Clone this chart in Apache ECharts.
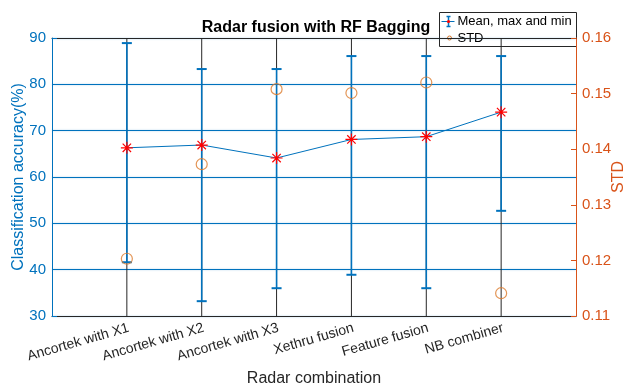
<!DOCTYPE html>
<html>
<head>
<meta charset="utf-8">
<script src="https://cdn.jsdelivr.net/npm/echarts@6/dist/echarts.min.js"></script>
<style>
  html, body { margin: 0; padding: 0; background: #fff; }
  #chart { width: 625px; height: 385px; }
</style>
</head>
<body>
<div id="chart"></div>
<script>
    'use strict';
    // data
    var categories = ['Ancortek with X1', 'Ancortek with X2', 'Ancortek with X3', 'Xethru fusion', 'Feature fusion', 'NB combiner'];
    var meanAcc = [66.3, 66.9, 64.1, 68.1, 68.7, 74.0];
    var maxAcc = [88.9, 83.3, 83.3, 86.1, 86.1, 86.1];
    var minAcc = [41.6, 33.2, 36.0, 38.9, 36.0, 52.7];
    var stdVals = [0.1203, 0.1373, 0.1508, 0.1501, 0.1520, 0.1141];
    var accTicks = [30, 40, 50, 60, 70, 80, 90];
    var stdTicks = [0.11, 0.12, 0.13, 0.14, 0.15, 0.16];

    var BLUE = '#0072BD';
    var ORANGE = '#D95319';
    var CIRCLE = '#DC7A2C';
    var FONT = 'Liberation Sans';
    var yMin = accTicks[0], yMax = accTicks[accTicks.length - 1];

    var meanData = [], barData = [], stdData = [];
    for (var i = 0; i < categories.length; i++) {
        meanData.push([i + 1, meanAcc[i]]);
        barData.push([i + 1, minAcc[i], maxAcc[i]]);
        stdData.push([i + 1, stdVals[i]]);
    }

    var asterisk = 'path://M0,-6L0,6M-6,0L6,0M-4.2,-4.2L4.2,4.2M-4.2,4.2L4.2,-4.2';

    var option = {
        animation: false,
        backgroundColor: '#fff',
        textStyle: { fontFamily: FONT },
        title: {
            text: 'Radar fusion with RF Bagging',
            left: 311, top: 15, textAlign: 'center',
            textStyle: { fontSize: 16, fontWeight: 'bold', color: '#000', fontFamily: FONT }
        },
        grid: { left: 52, right: 49, top: 38, bottom: 69, containLabel: false, outerBoundsMode: 'none' },
        xAxis: [{
            type: 'value', min: 0, max: categories.length + 1, interval: 1,
            name: 'Radar combination', nameLocation: 'middle', nameGap: 55, nameMoveOverlap: false,
            nameTextStyle: { fontSize: 16, color: '#262626', fontFamily: FONT },
            axisLine: { onZero: false, lineStyle: { color: '#262626', width: 1 } },
            axisTick: { show: false },
            splitLine: { show: false },
            axisLabel: {
                rotate: 16, fontSize: 14, color: '#262626', margin: 5, verticalAlign: 'top',
                formatter: function (v) { return categories[v - 1] || ''; }
            }
        }, {
            type: 'value', position: 'top', min: 0, max: categories.length + 1,
            axisLine: { show: true, onZero: false, lineStyle: { color: '#262626', width: 1 } },
            axisTick: { show: false }, axisLabel: { show: false }, splitLine: { show: false }
        }],
        yAxis: [{
            type: 'value', min: yMin, max: yMax, interval: 10, position: 'left',
            name: 'Classification accuracy(%)', nameLocation: 'middle', nameGap: 25, nameMoveOverlap: false,
            nameTextStyle: { fontSize: 16, color: BLUE, fontFamily: FONT },
            axisLine: { show: true, onZero: false, lineStyle: { color: BLUE, width: 1 } },
            axisTick: { show: true, inside: true, length: 5, lineStyle: { color: BLUE } },
            axisLabel: { fontSize: 15, color: BLUE, margin: 6 },
            splitLine: { show: true, lineStyle: { color: BLUE, width: 1.2, shadowColor: 'rgba(0,114,189,0.35)', shadowBlur: 2 } }
        }, {
            type: 'value', min: stdTicks[0], max: stdTicks[stdTicks.length - 1], splitNumber: 5, position: 'right',
            name: 'STD', nameLocation: 'middle', nameGap: 35, nameRotate: 90, nameMoveOverlap: false,
            nameTextStyle: { fontSize: 16, color: ORANGE, fontFamily: FONT },
            axisLine: { show: true, onZero: false, lineStyle: { color: ORANGE, width: 1 } },
            axisTick: { show: true, inside: true, length: 5, lineStyle: { color: ORANGE } },
            axisLabel: { fontSize: 15, color: ORANGE, margin: 6, formatter: function (v) { return v.toFixed(2); } },
            splitLine: { show: false }
        }],
        series: [{
            type: 'custom', name: 'Mean, max and min', yAxisIndex: 0, z: 3,
            data: barData,
            renderItem: function (params, api) {
                var x = api.value(0);
                var lo = api.coord([x, api.value(1)]);
                var hi = api.coord([x, api.value(2)]);
                var bot = api.coord([x, yMin]);
                var top = api.coord([x, yMax]);
                var cw = 5;
                return {
                    type: 'group', children: [
                        { type: 'line', shape: { x1: bot[0], y1: bot[1], x2: top[0], y2: top[1] }, style: { stroke: '#262626', lineWidth: 1 } },
                        { type: 'line', shape: { x1: lo[0], y1: lo[1], x2: hi[0], y2: hi[1] }, style: { stroke: BLUE, lineWidth: 1.6 } },
                        { type: 'line', shape: { x1: lo[0] - cw, y1: lo[1], x2: lo[0] + cw, y2: lo[1] }, style: { stroke: BLUE, lineWidth: 2 } },
                        { type: 'line', shape: { x1: hi[0] - cw, y1: hi[1], x2: hi[0] + cw, y2: hi[1] }, style: { stroke: BLUE, lineWidth: 2 } }
                    ]
                };
            }
        }, {
            type: 'line', name: 'mean', yAxisIndex: 0, z: 4,
            data: meanData,
            symbol: asterisk, symbolSize: 12,
            lineStyle: { color: BLUE, width: 1 },
            itemStyle: { color: 'none', borderColor: '#FF0000', borderWidth: 1.2 }
        }, {
            type: 'scatter', name: 'STD', yAxisIndex: 1, z: 5,
            data: stdData,
            symbol: 'circle', symbolSize: 11,
            itemStyle: { color: 'none', borderColor: CIRCLE, borderWidth: 1.2 }
        }],
        graphic: [{
            type: 'group', left: 439, top: 12, z: 100,
            children: [
                { type: 'rect', shape: { x: 0, y: 0, width: 137, height: 34 }, style: { fill: '#fff', stroke: '#262626', lineWidth: 1 } },
                { type: 'line', shape: { x1: 2, y1: 9, x2: 15, y2: 9 }, style: { stroke: BLUE, lineWidth: 1 } },
                { type: 'line', shape: { x1: 9, y1: 4, x2: 9, y2: 14 }, style: { stroke: BLUE, lineWidth: 1.5 } },
                { type: 'line', shape: { x1: 7, y1: 4, x2: 11, y2: 4 }, style: { stroke: BLUE, lineWidth: 1.5 } },
                { type: 'line', shape: { x1: 7, y1: 14, x2: 11, y2: 14 }, style: { stroke: BLUE, lineWidth: 1.5 } },
                { type: 'circle', shape: { cx: 9, cy: 9, r: 1.6 }, style: { fill: '#FF0000' } },
                { type: 'text', x: 18, y: 9, style: { text: 'Mean, max and min', font: '13px "Liberation Sans"', fill: '#000', verticalAlign: 'middle' } },
                { type: 'circle', shape: { cx: 10, cy: 25.5, r: 2 }, style: { fill: 'none', stroke: CIRCLE, lineWidth: 1 } },
                { type: 'text', x: 18, y: 25.5, style: { text: 'STD', font: '13px "Liberation Sans"', fill: '#000', verticalAlign: 'middle' } }
            ]
        }]
    };

    var chart = echarts.init(document.getElementById('chart'));
    chart.setOption(option);
</script>
</body>
</html>
